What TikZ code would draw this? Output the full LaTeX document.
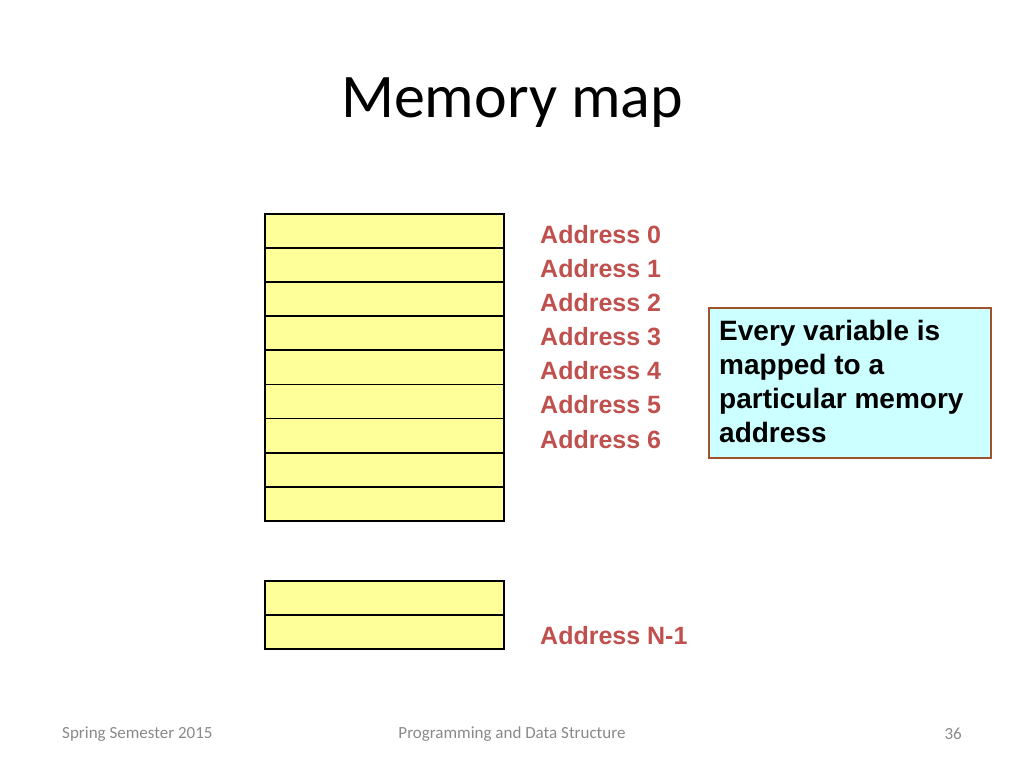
\documentclass[tikz,border=0pt]{standalone}
\usepackage{fontspec}
\setmainfont{Liberation Sans}
\newfontfamily\calibri{Carlito}
\definecolor{cellfill}{HTML}{FFFF99}
\definecolor{addr}{HTML}{C0504D}
\definecolor{notefill}{HTML}{CCFFFF}
\definecolor{noteborder}{HTML}{A0522D}
\definecolor{footgray}{HTML}{898989}
\begin{document}
\begin{tikzpicture}[x=1pt,y=-1pt,
  cell/.style={draw=black,fill=cellfill,line width=1.8pt,minimum width=239pt,minimum height=34.1pt,inner sep=0pt,anchor=north west},
  addrlabel/.style={text=addr,font=\fontsize{25}{30}\selectfont\bfseries,anchor=west,inner sep=0pt},
  note/.style={draw=noteborder,fill=notefill,line width=1.5pt,minimum width=282pt,minimum height=150pt,anchor=north west,inner sep=0pt},
  foot/.style={text=footgray,font=\calibri\fontsize{17}{20}\selectfont,inner sep=0pt}]
\useasboundingbox (0,0) rectangle (1024,768);
\node[font=\calibri\fontsize{62}{74}\selectfont,inner sep=0pt] (title) at (512,103) {Memory map};
\foreach \i in {0,...,8}{
  \node[cell] (c\i) at (264,{213+34.1*\i}) {};
}
\node[cell] (d0) at (264,580) {};
\node[cell] (d1) at (264,614.1) {};
\foreach \i in {0,...,6}{
  \node[addrlabel] (a\i) at (540,{234.5+34.1*\i}) {Address \i};
}
\node[addrlabel] (aN) at (540,636) {Address N-1};
\node[note] (box) at (708,307) {};
\node[anchor=north west,inner sep=0pt,align=left,font=\fontsize{28}{34.1}\selectfont\bfseries] (notetext) at (719,320) {Every variable is\\mapped to a\\particular memory\\address};
\node[foot,anchor=west] (f1) at (62,734) {Spring Semester 2015};
\node[foot] (f2) at (512,734) {Programming and Data Structure};
\node[foot,anchor=east] (f3) at (962,734) {36};
\end{tikzpicture}
\end{document}
